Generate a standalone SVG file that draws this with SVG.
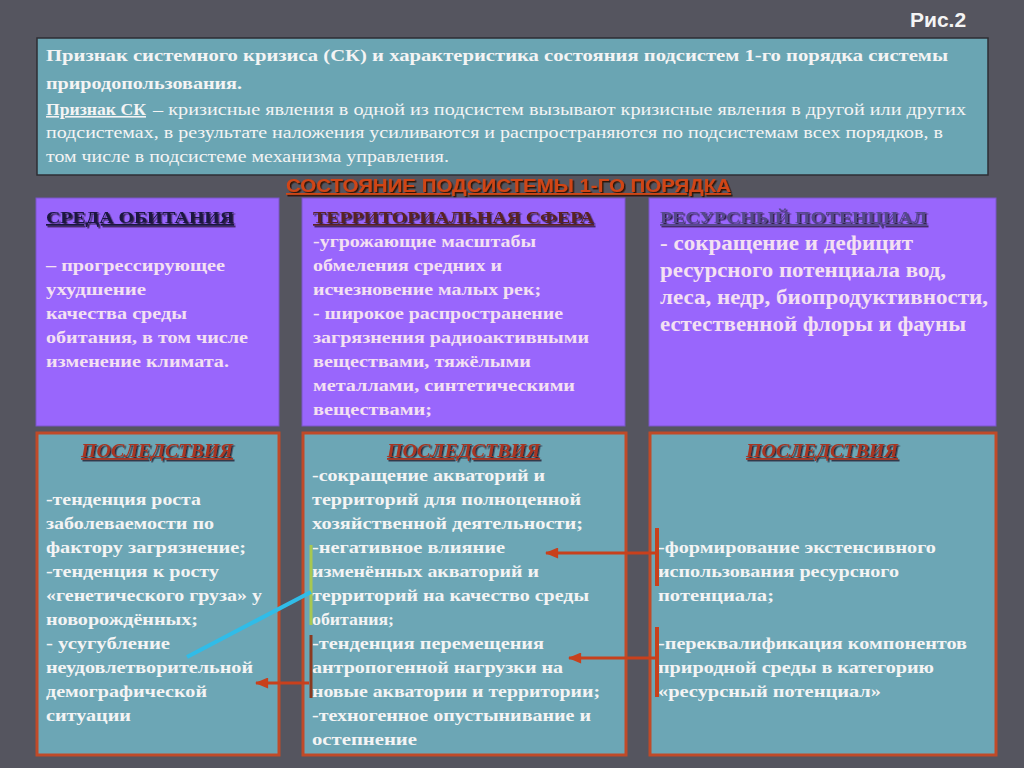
<svg xmlns="http://www.w3.org/2000/svg" width="1024" height="768" viewBox="0 0 1024 768">
<defs>
<style>
.bg{fill:#55555f}
.top{fill:#6aa5b3;stroke:#2e2e34;stroke-width:1.5}
.pur{fill:#9966fc;stroke:#7a56c8;stroke-width:1}
.cons{fill:#6ca6b5;stroke:#c04a28;stroke-width:3}
.tt{font-family:"Liberation Serif",serif;font-size:16px;fill:#f4f4f4}
.b{font-weight:bold}
.pt{font-family:"Liberation Serif",serif;font-weight:bold;font-size:17px;fill:#f4e0f2}
.pt3{font-family:"Liberation Serif",serif;font-weight:bold;font-size:21px;fill:#f4e0f2}
.ct{font-family:"Liberation Serif",serif;font-weight:bold;font-size:17px;fill:#f4f4f4}
.hd{font-family:"Liberation Serif",serif;font-weight:bold;font-size:17px;text-decoration:underline;filter:url(#sh)}
.cq{font-family:"Liberation Serif",serif;font-weight:bold;font-style:italic;font-size:18px;fill:#a83420;text-decoration:underline;filter:url(#sh)}
.ttl{font-family:"Liberation Sans",Arial,sans-serif;font-weight:bold;font-size:18px;fill:#d04414;text-decoration:underline;filter:url(#sh2)}
.arr{stroke:#c8401c;stroke-width:3;fill:none}
</style>
<filter id="sh" x="-5%" y="-20%" width="110%" height="150%">
<feDropShadow dx="1.5" dy="1.5" stdDeviation="0.6" flood-color="#1a1020" flood-opacity="0.8"/>
</filter>
<filter id="sh2" x="-5%" y="-20%" width="110%" height="150%">
<feDropShadow dx="1.5" dy="1.5" stdDeviation="0.5" flood-color="#2a0a04" flood-opacity="0.9"/>
</filter>
<marker id="ah" viewBox="0 0 12 10" refX="11" refY="5" markerWidth="14" markerHeight="11" markerUnits="userSpaceOnUse" orient="auto">
<path d="M0,0 L12,5 L0,10 Z" fill="#c8401c"/>
</marker>
</defs>
<rect class="bg" x="0" y="0" width="1024" height="768"/>
<text x="910" y="27" font-family="'Liberation Sans',Arial,sans-serif" font-weight="bold" font-size="21" fill="#f4f4f4">Рис.2</text>

<g id="header">
<rect class="top" x="37" y="38" width="951" height="137"/>
<text class="tt b" x="46" y="61" textLength="902" lengthAdjust="spacingAndGlyphs">Признак системного кризиса (СК) и характеристика состояния подсистем 1-го порядка системы</text>
<text class="tt b" x="46" y="89" textLength="196" lengthAdjust="spacingAndGlyphs">природопользования.</text>
<text class="tt" x="46" y="115"><tspan class="b" text-decoration="underline" textLength="100" lengthAdjust="spacingAndGlyphs">Признак СК</tspan><tspan x="148" textLength="818" lengthAdjust="spacingAndGlyphs"> – кризисные явления в одной из подсистем вызывают кризисные явления в другой или других</tspan></text>
<text class="tt" x="46" y="138" textLength="897" lengthAdjust="spacingAndGlyphs">подсистемах, в результате наложения усиливаются и распространяются по подсистемам всех порядков, в</text>
<text class="tt" x="46" y="162" textLength="403" lengthAdjust="spacingAndGlyphs">том числе в подсистеме механизма управления.</text>
</g>

<g id="title">
<text class="ttl" x="286" y="192" textLength="445" lengthAdjust="spacingAndGlyphs">СОСТОЯНИЕ  ПОДСИСТЕМЫ  1-ГО ПОРЯДКА</text>
</g>

<g id="state-habitat">
<rect class="pur" x="36" y="198" width="243" height="228"/>
<text class="hd" x="46" y="223" fill="#1a1840" textLength="188" lengthAdjust="spacingAndGlyphs">СРЕДА ОБИТАНИЯ</text>
<text class="pt" x="46" y="271" textLength="179" lengthAdjust="spacingAndGlyphs">– прогрессирующее</text>
<text class="pt" x="46" y="295" textLength="100" lengthAdjust="spacingAndGlyphs">ухудшение</text>
<text class="pt" x="46" y="319" textLength="141" lengthAdjust="spacingAndGlyphs">качества среды</text>
<text class="pt" x="46" y="343" textLength="202" lengthAdjust="spacingAndGlyphs">обитания, в том числе</text>
<text class="pt" x="46" y="367" textLength="183" lengthAdjust="spacingAndGlyphs">изменение климата.</text>
</g>

<g id="state-territory">
<rect class="pur" x="302" y="198" width="323" height="228"/>
<text class="hd" x="313" y="223" fill="#5a2424" textLength="281" lengthAdjust="spacingAndGlyphs">ТЕРРИТОРИАЛЬНАЯ СФЕРА</text>
<text class="pt" x="313" y="247" textLength="223" lengthAdjust="spacingAndGlyphs">-угрожающие масштабы</text>
<text class="pt" x="313" y="271" textLength="189" lengthAdjust="spacingAndGlyphs">обмеления средних и</text>
<text class="pt" x="313" y="295" textLength="228" lengthAdjust="spacingAndGlyphs">исчезновение малых рек;</text>
<text class="pt" x="313" y="319" textLength="250" lengthAdjust="spacingAndGlyphs">-  широкое распространение</text>
<text class="pt" x="313" y="343" textLength="276" lengthAdjust="spacingAndGlyphs">загрязнения радиоактивными</text>
<text class="pt" x="313" y="367" textLength="218" lengthAdjust="spacingAndGlyphs">веществами, тяжёлыми</text>
<text class="pt" x="313" y="391" textLength="262" lengthAdjust="spacingAndGlyphs">металлами, синтетическими</text>
<text class="pt" x="313" y="415" textLength="119" lengthAdjust="spacingAndGlyphs">веществами;</text>
</g>

<g id="state-resource">
<rect class="pur" x="649" y="198" width="347" height="228"/>
<text class="hd" x="660" y="223" fill="#54488a" textLength="267" lengthAdjust="spacingAndGlyphs">РЕСУРСНЫЙ ПОТЕНЦИАЛ</text>
<text class="pt3" x="660" y="250" textLength="253" lengthAdjust="spacingAndGlyphs">- сокращение и дефицит</text>
<text class="pt3" x="660" y="277" textLength="286" lengthAdjust="spacingAndGlyphs">ресурсного потенциала вод,</text>
<text class="pt3" x="660" y="304" textLength="328" lengthAdjust="spacingAndGlyphs">леса, недр, биопродуктивности,</text>
<text class="pt3" x="660" y="331" textLength="306" lengthAdjust="spacingAndGlyphs">естественной флоры и фауны</text>
</g>

<g id="cons-habitat">
<rect class="cons" x="37" y="433" width="242" height="322"/>
<text class="cq" x="81" y="457" textLength="152" lengthAdjust="spacingAndGlyphs">ПОСЛЕДСТВИЯ</text>
<text class="ct" x="46" y="505" textLength="155" lengthAdjust="spacingAndGlyphs">-тенденция роста</text>
<text class="ct" x="46" y="529" textLength="168" lengthAdjust="spacingAndGlyphs">заболеваемости по</text>
<text class="ct" x="46" y="553" textLength="200" lengthAdjust="spacingAndGlyphs">фактору  загрязнение;</text>
<text class="ct" x="46" y="577" textLength="173" lengthAdjust="spacingAndGlyphs">-тенденция к росту</text>
<text class="ct" x="46" y="601" textLength="216" lengthAdjust="spacingAndGlyphs">«генетического груза» у</text>
<text class="ct" x="46" y="625" textLength="152" lengthAdjust="spacingAndGlyphs">новорождённых;</text>
<text class="ct" x="46" y="649" textLength="124" lengthAdjust="spacingAndGlyphs">- усугубление</text>
<text class="ct" x="46" y="673" textLength="207" lengthAdjust="spacingAndGlyphs">неудовлетворительной</text>
<text class="ct" x="46" y="697" textLength="161" lengthAdjust="spacingAndGlyphs">демографической</text>
<text class="ct" x="46" y="721" textLength="85" lengthAdjust="spacingAndGlyphs">ситуации</text>
</g>

<g id="cons-territory">
<rect class="cons" x="303" y="433" width="323" height="322"/>
<text class="cq" x="387" y="457" textLength="153" lengthAdjust="spacingAndGlyphs">ПОСЛЕДСТВИЯ</text>
<text class="ct" x="312" y="481" textLength="233" lengthAdjust="spacingAndGlyphs">-сокращение акваторий и</text>
<text class="ct" x="312" y="505" textLength="269" lengthAdjust="spacingAndGlyphs">территорий для полноценной</text>
<text class="ct" x="312" y="529" textLength="271" lengthAdjust="spacingAndGlyphs">хозяйственной деятельности;</text>
<text class="ct" x="312" y="553" textLength="193" lengthAdjust="spacingAndGlyphs">-негативное влияние</text>
<text class="ct" x="312" y="577" textLength="227" lengthAdjust="spacingAndGlyphs">изменённых акваторий и</text>
<text class="ct" x="312" y="601" textLength="277" lengthAdjust="spacingAndGlyphs">территорий  на качество среды</text>
<text class="ct" x="312" y="625" textLength="82" lengthAdjust="spacingAndGlyphs">обитания;</text>
<text class="ct" x="312" y="649" textLength="232" lengthAdjust="spacingAndGlyphs">-тенденция перемещения</text>
<text class="ct" x="312" y="673" textLength="251" lengthAdjust="spacingAndGlyphs">антропогенной нагрузки на</text>
<text class="ct" x="312" y="697" textLength="288" lengthAdjust="spacingAndGlyphs">новые акватории и территории;</text>
<text class="ct" x="312" y="721" textLength="279" lengthAdjust="spacingAndGlyphs">-техногенное опустынивание и</text>
<text class="ct" x="312" y="745" textLength="105" lengthAdjust="spacingAndGlyphs">остепнение</text>
</g>

<g id="cons-resource">
<rect class="cons" x="650" y="433" width="346" height="322"/>
<text class="cq" x="746" y="457" textLength="152" lengthAdjust="spacingAndGlyphs">ПОСЛЕДСТВИЯ</text>
<text class="ct" x="658" y="553" textLength="278" lengthAdjust="spacingAndGlyphs">-формирование экстенсивного</text>
<text class="ct" x="658" y="577" textLength="241" lengthAdjust="spacingAndGlyphs">использования ресурсного</text>
<text class="ct" x="658" y="601" textLength="116" lengthAdjust="spacingAndGlyphs">потенциала;</text>
<text class="ct" x="658" y="649" textLength="309" lengthAdjust="spacingAndGlyphs">-переквалификация компонентов</text>
<text class="ct" x="658" y="673" textLength="276" lengthAdjust="spacingAndGlyphs">природной среды в категорию</text>
<text class="ct" x="658" y="697" textLength="223" lengthAdjust="spacingAndGlyphs">«ресурсный потенциал»</text>
</g>

<g id="connectors">
<line x1="311" y1="545" x2="311" y2="625" stroke="#a8c850" stroke-width="3"/>
<line x1="311" y1="592" x2="187" y2="657" stroke="#30bce8" stroke-width="4"/>
<line x1="311" y1="635" x2="311" y2="698" stroke="#8a3a20" stroke-width="3"/>
<line class="arr" x1="309" y1="683" x2="256" y2="683" marker-end="url(#ah)"/>
<line x1="657" y1="528" x2="657" y2="586" stroke="#c8401c" stroke-width="4"/>
<line class="arr" x1="656" y1="553" x2="546" y2="553" marker-end="url(#ah)"/>
<line x1="657" y1="627" x2="657" y2="697" stroke="#c8401c" stroke-width="4"/>
<line class="arr" x1="656" y1="658" x2="569" y2="658" marker-end="url(#ah)"/>
</g>
</svg>
